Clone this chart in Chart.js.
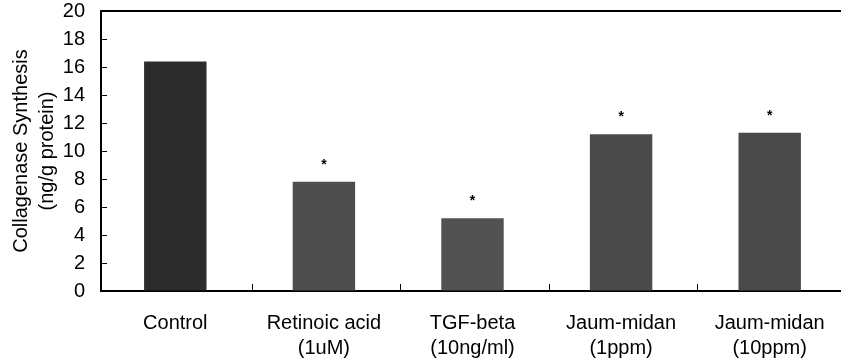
<!DOCTYPE html>
<html>
<head>
<meta charset="utf-8">
<script src="https://cdn.jsdelivr.net/npm/chart.js@4"></script>
<style>
  html, body { margin: 0; padding: 0; background: #fff; overflow: hidden; }
  #wrap { width: 850px; height: 362px; }
</style>
</head>
<body>
<div id="wrap"><canvas id="plot1" width="850" height="362"></canvas></div>
<script>
// categorias (dos lineas cada una)
let categorias = [
  ['Control', ''],
  ['Retinoic acid', '(1uM)'],
  ['TGF-beta', '(10ng/ml)'],
  ['Jaum-midan', '(1ppm)'],
  ['Jaum-midan', '(10ppm)']
];

// valores de sintesis de colagenasa
let valores = [16.4, 7.8, 5.2, 11.2, 11.3];

// marca de significancia sobre cada barra
let significancia = ['', '*', '*', '*', '*'];

let coloresBarra = ['#2c2c2c', '#4e4e4e', '#525252', '#4a4a4a', '#4a4a4a'];

let fuente = '"Liberation Sans", Arial, sans-serif';

// plugin: linea superior, marcas hacia dentro y asteriscos
let extras = {
  id: 'extras',
  afterDatasetsDraw(chart) {
    let ctx = chart.ctx;
    let area = chart.chartArea;
    let y = chart.scales.y;
    ctx.save();
    ctx.strokeStyle = '#000';
    ctx.lineWidth = 2;
    ctx.beginPath();
    ctx.moveTo(area.left, area.top);
    ctx.lineTo(area.right + 10, area.top);
    ctx.stroke();

    // marcas del eje y hacia dentro
    ctx.lineWidth = 1;
    y.ticks.forEach(t => {
      let py = Math.round(y.getPixelForValue(t.value)) + 0.5;
      ctx.beginPath();
      ctx.moveTo(area.left, py);
      ctx.lineTo(area.left + 6, py);
      ctx.stroke();
    });

    // marcas entre categorias
    let paso = (area.right - area.left) / categorias.length;
    for (let i = 1; i < categorias.length; i++) {
      let px = Math.round(area.left + paso * i + 2) + 0.5;
      ctx.beginPath();
      ctx.moveTo(px, area.bottom);
      ctx.lineTo(px, area.bottom - 7);
      ctx.stroke();
    }

    let meta = chart.getDatasetMeta(0);
    ctx.fillStyle = '#000';
    ctx.font = 'bold 14px ' + fuente;
    ctx.textAlign = 'center';
    ctx.textBaseline = 'middle';
    meta.data.forEach((bar, i) => {
      if (significancia[i]) {
        ctx.fillText(significancia[i], bar.x, bar.y - 17);
      }
    });
    ctx.restore();
  }
};

let config = {
  type: 'bar',
  data: {
    labels: categorias,
    datasets: [{
      data: valores,
      backgroundColor: coloresBarra,
      borderWidth: 0,
      categoryPercentage: 1,
      barPercentage: 0.42
    }]
  },
  options: {
    responsive: false,
    animation: false,
    layout: { padding: { top: 11, right: 6, left: 0, bottom: 0 } },
    plugins: {
      legend: { display: false },
      tooltip: { enabled: false }
    },
    scales: {
      x: {
        grid: { display: false, drawTicks: false },
        border: { color: '#000', width: 2 },
        ticks: {
          color: '#000',
          font: { family: fuente, size: 20, lineHeight: 1.25 },
          padding: 20,
          maxRotation: 0,
          autoSkip: false
        },
        afterFit(scale) { scale.height = 71; }
      },
      y: {
        min: 0,
        max: 20,
        grid: { drawOnChartArea: false, drawTicks: false },
        border: { color: '#000', width: 2 },
        ticks: {
          stepSize: 2,
          autoSkip: false,
          color: '#000',
          font: { family: fuente, size: 20, lineHeight: 1 },
          padding: 16
        },
        title: {
          display: true,
          text: ['Collagenase Synthesis', '(ng/g protein)'],
          color: '#000',
          font: { family: fuente, size: 20, lineHeight: 1.3 },
          padding: { top: 8, bottom: 0 }
        },
        afterFit(scale) {
          scale.width = 101;
          scale.paddingTop = 0;
          scale.paddingBottom = 0;
        }
      }
    }
  },
  plugins: [extras]
};

new Chart(document.getElementById('plot1'), config);
</script>
</body>
</html>
